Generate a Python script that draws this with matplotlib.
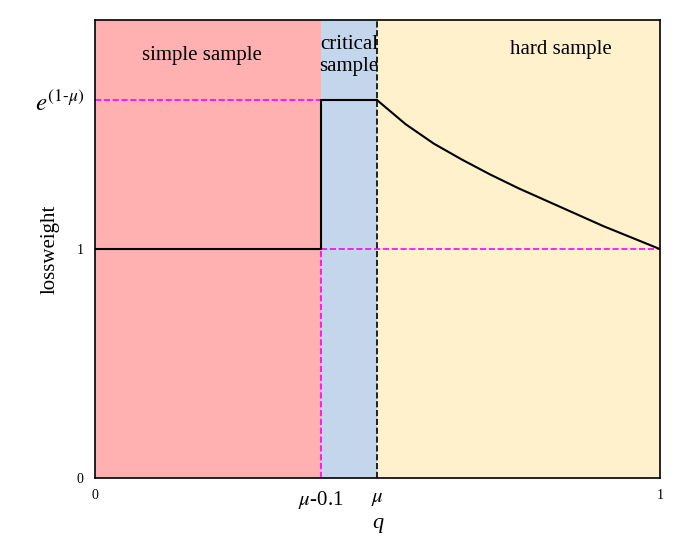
import numpy as np
import matplotlib.pyplot as plt

plt.rcParams['font.family'] = ['Liberation Serif', 'DejaVu Serif']
plt.rcParams['mathtext.fontset'] = 'stix'

MU = 0.5
PEAK = np.exp(1 - MU)

# step part of the loss weight
step_q = [0.0, 0.4, 0.4, 0.5]
step_w = [1.0, 1.0, PEAK, PEAK]
# decaying part
curve_q = [0.5, 0.55, 0.6, 0.65, 0.7, 0.75, 0.8, 0.85, 0.9, 0.95, 1.0]
curve_w = [1.649, 1.545, 1.460, 1.390, 1.325, 1.265, 1.210, 1.155, 1.100, 1.050, 1.0]

region_edges = [0.0, 0.4, 0.5, 1.0]
region_colors = ["#FFB1B1", "#C3D6EB", "#FFF1CC"]
region_names = ["simple sample", "critical\nsample", "hard sample"]
region_text_pos = [(0.19, 1.845), (0.45, 1.845), (0.825, 1.87)]

fig = plt.figure(figsize=(6.76, 5.6), dpi=100)
ax = fig.add_axes([0.1405, 0.1464, 0.8355, 0.8179])

for i, c in enumerate(region_colors):
    ax.axvspan(region_edges[i], region_edges[i + 1], color=c, lw=0)
for name, (x, y) in zip(region_names, region_text_pos):
    ax.text(x, y, name, ha="center", va="center", fontsize=15, linespacing=1.25)

ax.plot([0, 0.4], [PEAK, PEAK], color="#FF00FF", ls="--", lw=1.2)
ax.plot([0.4, 1.0], [1, 1], color="#FF00FF", ls="--", lw=1.2)
ax.plot([0.4, 0.4], [0, 1], color="#FF00FF", ls="--", lw=1.2)
ax.plot([0.5, 0.5], [0, 2], color="black", ls="--", lw=1.2)

ax.plot(step_q, step_w, color="black", lw=1.5)
ax.plot(curve_q, curve_w, color="black", lw=1.5)

ax.set_xlim(0, 1)
ax.set_ylim(0, 2)
ax.set_xticks([0, 0.4, 0.5, 1])
ax.set_xticklabels(["0", r"$\mu$-0.1", r"$\mu$-0.1"[:0] + r"$\mu$", "1"])
ax.set_yticks([0, 1, PEAK])
ax.set_yticklabels(["0", "1", r"$e^{(1\text{-}\mu)}$"])
ax.tick_params(length=0, pad=8)
for lab in ax.get_xticklabels():
    lab.set_fontsize(10 if lab.get_text() in ("0", "1") else 15)
ylabs = ax.get_yticklabels()
ylabs[0].set_fontsize(10)
ylabs[1].set_fontsize(10)
ylabs[2].set_fontsize(18)
ax.set_xlabel("q", fontsize=16, style="italic", labelpad=2)
ax.set_ylabel("lossweight", fontsize=15)
ax.yaxis.set_label_coords(-0.062, 0.5)
for s in ax.spines.values():
    s.set_linewidth(1.2)

fig.savefig("out.png")
